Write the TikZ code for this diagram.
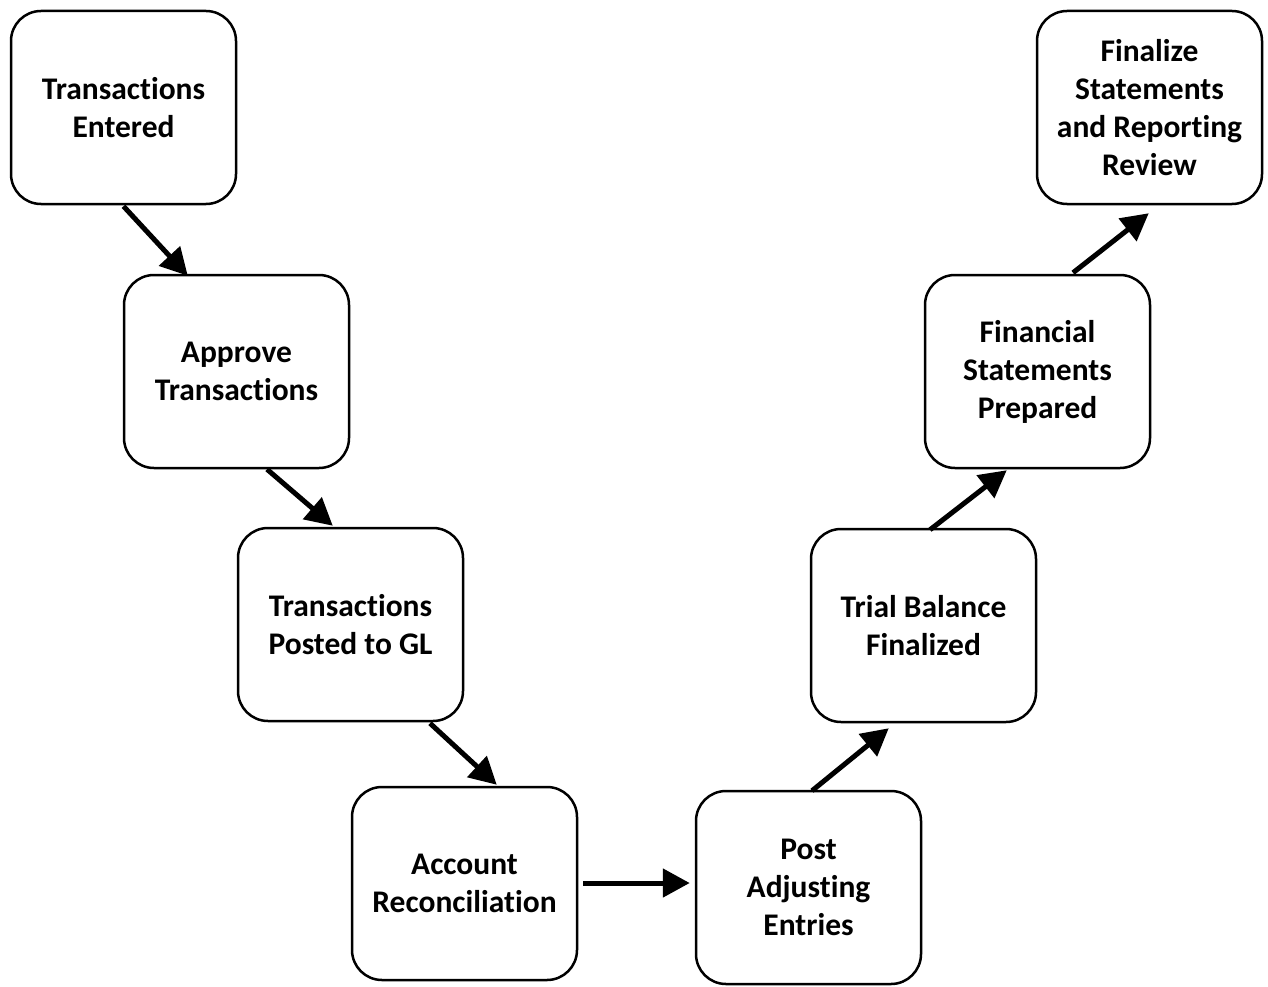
\documentclass[tikz,border=0pt]{standalone}
\usepackage{fontspec}
\setmainfont{Carlito}[Ligatures=NoCommon]
\usetikzlibrary{arrows.meta,calc}
\begin{document}
\begin{tikzpicture}[x=1pt,y=-1pt,
  stepbox/.style={draw=black,line width=2.5pt,rounded corners=30pt,
    minimum width=225pt,minimum height=193pt,align=center,inner sep=0pt,
    font=\fontsize{31.5}{38}\selectfont\bfseries},
  flow/.style={line width=5pt,-{Triangle[length=27pt,width=28pt]}}]
\useasboundingbox (0,0) rectangle (1268,987);
% process steps
\node[stepbox] (t1) at (123.5,107.5) {Transactions\\Entered};
\node[stepbox] (t2) at (236.5,371.5) {Approve\\Transactions};
\node[stepbox] (t3) at (350.5,624.5) {Transactions\\Posted to GL};
\node[stepbox] (t4) at (464.5,883.5) {Account\\Reconciliation};
\node[stepbox] (t5) at (808.5,887.5) {Post\\Adjusting\\Entries};
\node[stepbox] (t6) at (923.5,625.5) {Trial Balance\\Finalized};
\node[stepbox] (t7) at (1037.5,371.5) {Financial\\Statements\\Prepared};
\node[stepbox] (t8) at (1149.5,107.5) {Finalize\\Statements\\and Reporting\\Review};
% connectors
\draw[flow] ($(t1.south)+(0,1)$) -- ($(t2.north west)+(65,2)$);
\draw[flow] ($(t2.south)+(30.5,0)$) -- ($(t3.north west)+(96,-1)$);
\draw[flow] ($(t3.south)+(79.5,1)$) -- ($(t4.north west)+(146,-1)$);
\draw[flow] ($(t4.east)+(5,-0.5)$) -- ($(t4.east -| t5.west)+(-5,-0.5)$);
\draw[flow] ($(t5.north)+(3.5,1)$) -- ($(t6.south west)+(79,5)$);
\draw[flow] ($(t6.north)+(6.5,2)$) -- ($(t7.south west)+(83,1)$);
\draw[flow] ($(t7.north)+(35.5,-1)$) -- ($(t8.south west)+(113,8)$);
\end{tikzpicture}
\end{document}
